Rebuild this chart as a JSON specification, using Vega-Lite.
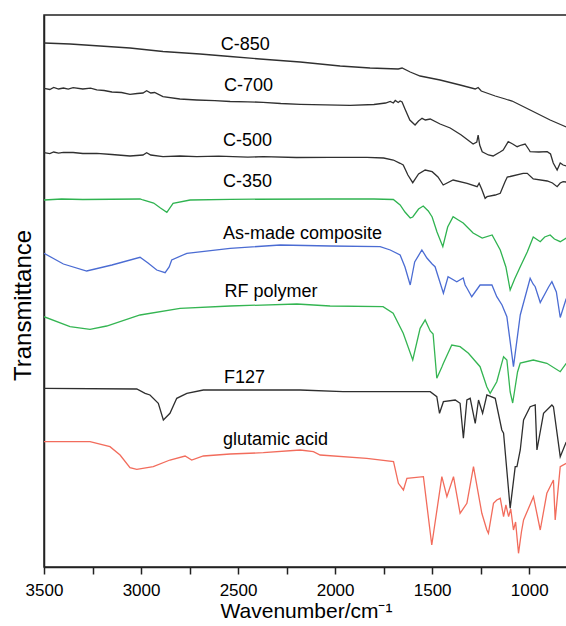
{
 "$schema": "https://vega.github.io/schema/vega-lite/v6.json",
 "width": 524, "height": 552,
 "autosize": {"type": "none"},
 "padding": {"left": 44, "top": 15, "right": 0, "bottom": 59},
 "background": "white",
 "config": {"view": {"stroke": "#222222", "strokeWidth": 1.5}, "font": "Liberation Sans"},
 "datasets": {
  "spectra": [
   {"s":"C-850","wn":3500,"T":524},{"s":"C-850","wn":3366,"T":523},{"s":"C-850","wn":3211,"T":521},{"s":"C-850","wn":3057,"T":519},{"s":"C-850","wn":2887,"T":515.5},{"s":"C-850","wn":2696,"T":513},{"s":"C-850","wn":2541,"T":510.5},{"s":"C-850","wn":2387,"T":508},{"s":"C-850","wn":2180,"T":505},{"s":"C-850","wn":1974,"T":501},{"s":"C-850","wn":1820,"T":499},{"s":"C-850","wn":1675,"T":498},{"s":"C-850","wn":1655,"T":499},{"s":"C-850","wn":1613,"T":495},{"s":"C-850","wn":1562,"T":491},{"s":"C-850","wn":1459,"T":487},{"s":"C-850","wn":1356,"T":482},{"s":"C-850","wn":1278,"T":478},{"s":"C-850","wn":1263,"T":479.5},{"s":"C-850","wn":1247,"T":476},{"s":"C-850","wn":1175,"T":471},{"s":"C-850","wn":1123,"T":468},{"s":"C-850","wn":1108,"T":467},{"s":"C-850","wn":1088,"T":466},{"s":"C-850","wn":995,"T":457},{"s":"C-850","wn":892,"T":447},{"s":"C-850","wn":809,"T":440},
   {"s":"C-700","wn":3500,"T":478.7},{"s":"C-700","wn":3470,"T":477.5},{"s":"C-700","wn":3450,"T":479.5},{"s":"C-700","wn":3425,"T":478},{"s":"C-700","wn":3400,"T":479},{"s":"C-700","wn":3375,"T":477.8},{"s":"C-700","wn":3350,"T":479.3},{"s":"C-700","wn":3300,"T":478},{"s":"C-700","wn":3260,"T":478.8},{"s":"C-700","wn":3228,"T":477.2},{"s":"C-700","wn":3190,"T":476.5},{"s":"C-700","wn":3150,"T":475},{"s":"C-700","wn":3100,"T":474.5},{"s":"C-700","wn":3057,"T":472.7},{"s":"C-700","wn":3020,"T":473.5},{"s":"C-700","wn":2990,"T":474},{"s":"C-700","wn":2971,"T":476.3},{"s":"C-700","wn":2950,"T":474},{"s":"C-700","wn":2930,"T":474.5},{"s":"C-700","wn":2887,"T":470.3},{"s":"C-700","wn":2800,"T":468},{"s":"C-700","wn":2713,"T":467},{"s":"C-700","wn":2620,"T":466.3},{"s":"C-700","wn":2541,"T":465.5},{"s":"C-700","wn":2450,"T":465.2},{"s":"C-700","wn":2371,"T":464.7},{"s":"C-700","wn":2280,"T":463.5},{"s":"C-700","wn":2180,"T":462.7},{"s":"C-700","wn":2050,"T":462.2},{"s":"C-700","wn":1923,"T":461.7},{"s":"C-700","wn":1800,"T":462.5},{"s":"C-700","wn":1740,"T":464},{"s":"C-700","wn":1716,"T":465.5},{"s":"C-700","wn":1700,"T":464},{"s":"C-700","wn":1690,"T":466.5},{"s":"C-700","wn":1675,"T":464.5},{"s":"C-700","wn":1665,"T":466},{"s":"C-700","wn":1655,"T":465},{"s":"C-700","wn":1640,"T":458},{"s":"C-700","wn":1615,"T":447},{"s":"C-700","wn":1588,"T":442},{"s":"C-700","wn":1570,"T":446},{"s":"C-700","wn":1552,"T":448.7},{"s":"C-700","wn":1535,"T":447},{"s":"C-700","wn":1510,"T":448},{"s":"C-700","wn":1459,"T":443},{"s":"C-700","wn":1407,"T":439},{"s":"C-700","wn":1350,"T":432},{"s":"C-700","wn":1289,"T":423},{"s":"C-700","wn":1270,"T":425},{"s":"C-700","wn":1263,"T":432},{"s":"C-700","wn":1255,"T":422},{"s":"C-700","wn":1242,"T":415.3},{"s":"C-700","wn":1210,"T":412},{"s":"C-700","wn":1186,"T":411},{"s":"C-700","wn":1150,"T":415},{"s":"C-700","wn":1134,"T":417},{"s":"C-700","wn":1108,"T":425.3},{"s":"C-700","wn":1085,"T":423},{"s":"C-700","wn":1062,"T":420.3},{"s":"C-700","wn":1040,"T":422},{"s":"C-700","wn":1021,"T":423},{"s":"C-700","wn":1000,"T":417},{"s":"C-700","wn":995,"T":415.3},{"s":"C-700","wn":950,"T":415},{"s":"C-700","wn":907,"T":415.3},{"s":"C-700","wn":890,"T":413},{"s":"C-700","wn":876,"T":404},{"s":"C-700","wn":856,"T":397},{"s":"C-700","wn":840,"T":404},{"s":"C-700","wn":825,"T":402},{"s":"C-700","wn":809,"T":401},
   {"s":"C-500","wn":3500,"T":414.3},{"s":"C-500","wn":3470,"T":413.3},{"s":"C-500","wn":3450,"T":415},{"s":"C-500","wn":3425,"T":413.8},{"s":"C-500","wn":3400,"T":414.6},{"s":"C-500","wn":3350,"T":414.5},{"s":"C-500","wn":3300,"T":413.5},{"s":"C-500","wn":3228,"T":413.7},{"s":"C-500","wn":3150,"T":412.5},{"s":"C-500","wn":3057,"T":411},{"s":"C-500","wn":2990,"T":412},{"s":"C-500","wn":2971,"T":414.3},{"s":"C-500","wn":2950,"T":412},{"s":"C-500","wn":2887,"T":410.3},{"s":"C-500","wn":2800,"T":411},{"s":"C-500","wn":2713,"T":410.3},{"s":"C-500","wn":2600,"T":410.8},{"s":"C-500","wn":2450,"T":409.8},{"s":"C-500","wn":2371,"T":410.3},{"s":"C-500","wn":2200,"T":409.5},{"s":"C-500","wn":2026,"T":409.7},{"s":"C-500","wn":1836,"T":409.7},{"s":"C-500","wn":1750,"T":409},{"s":"C-500","wn":1700,"T":407},{"s":"C-500","wn":1665,"T":403.7},{"s":"C-500","wn":1649,"T":402},{"s":"C-500","wn":1625,"T":392},{"s":"C-500","wn":1600,"T":384.3},{"s":"C-500","wn":1570,"T":393},{"s":"C-500","wn":1536,"T":397},{"s":"C-500","wn":1500,"T":395.3},{"s":"C-500","wn":1470,"T":390},{"s":"C-500","wn":1443,"T":382},{"s":"C-500","wn":1392,"T":387},{"s":"C-500","wn":1320,"T":383.7},{"s":"C-500","wn":1268,"T":380.3},{"s":"C-500","wn":1258,"T":383.7},{"s":"C-500","wn":1245,"T":378},{"s":"C-500","wn":1227,"T":368.7},{"s":"C-500","wn":1217,"T":370.3},{"s":"C-500","wn":1175,"T":372},{"s":"C-500","wn":1149,"T":373.7},{"s":"C-500","wn":1125,"T":385},{"s":"C-500","wn":1113,"T":390},{"s":"C-500","wn":1098,"T":390.5},{"s":"C-500","wn":1031,"T":393.7},{"s":"C-500","wn":1010,"T":393.7},{"s":"C-500","wn":979,"T":388},{"s":"C-500","wn":907,"T":386},{"s":"C-500","wn":880,"T":384},{"s":"C-500","wn":856,"T":380.3},{"s":"C-500","wn":840,"T":384},{"s":"C-500","wn":825,"T":385.3},{"s":"C-500","wn":809,"T":385},
   {"s":"C-350","wn":3500,"T":367},{"s":"C-350","wn":3409,"T":368},{"s":"C-350","wn":3300,"T":367.5},{"s":"C-350","wn":3005,"T":368},{"s":"C-350","wn":2990,"T":367},{"s":"C-350","wn":2935,"T":364},{"s":"C-350","wn":2900,"T":359},{"s":"C-350","wn":2867,"T":354.7},{"s":"C-350","wn":2835,"T":363.7},{"s":"C-350","wn":2747,"T":367},{"s":"C-350","wn":2541,"T":367.7},{"s":"C-350","wn":2026,"T":368},{"s":"C-350","wn":1800,"T":368},{"s":"C-350","wn":1700,"T":367.5},{"s":"C-350","wn":1665,"T":362},{"s":"C-350","wn":1640,"T":355},{"s":"C-350","wn":1613,"T":349},{"s":"C-350","wn":1600,"T":350},{"s":"C-350","wn":1570,"T":358},{"s":"C-350","wn":1546,"T":361},{"s":"C-350","wn":1520,"T":356},{"s":"C-350","wn":1500,"T":350},{"s":"C-350","wn":1475,"T":335},{"s":"C-350","wn":1445,"T":320.3},{"s":"C-350","wn":1420,"T":340},{"s":"C-350","wn":1392,"T":350.3},{"s":"C-350","wn":1365,"T":347},{"s":"C-350","wn":1340,"T":344},{"s":"C-350","wn":1289,"T":334},{"s":"C-350","wn":1242,"T":329},{"s":"C-350","wn":1191,"T":332},{"s":"C-350","wn":1149,"T":317},{"s":"C-350","wn":1120,"T":300},{"s":"C-350","wn":1098,"T":277},{"s":"C-350","wn":1075,"T":288},{"s":"C-350","wn":1046,"T":300.3},{"s":"C-350","wn":1010,"T":315},{"s":"C-350","wn":979,"T":330},{"s":"C-350","wn":943,"T":325.3},{"s":"C-350","wn":920,"T":330},{"s":"C-350","wn":892,"T":332},{"s":"C-350","wn":870,"T":328},{"s":"C-350","wn":840,"T":325.3},{"s":"C-350","wn":809,"T":329},
   {"s":"As-made composite","wn":3500,"T":313.7},{"s":"As-made composite","wn":3400,"T":303},{"s":"As-made composite","wn":3280,"T":296},{"s":"As-made composite","wn":3150,"T":302},{"s":"As-made composite","wn":3005,"T":309.7},{"s":"As-made composite","wn":2964,"T":304},{"s":"As-made composite","wn":2919,"T":297},{"s":"As-made composite","wn":2876,"T":294.3},{"s":"As-made composite","wn":2855,"T":300},{"s":"As-made composite","wn":2842,"T":307},{"s":"As-made composite","wn":2764,"T":313.7},{"s":"As-made composite","wn":2541,"T":318.7},{"s":"As-made composite","wn":2283,"T":322},{"s":"As-made composite","wn":2026,"T":321},{"s":"As-made composite","wn":1768,"T":320.3},{"s":"As-made composite","wn":1716,"T":317},{"s":"As-made composite","wn":1665,"T":312},{"s":"As-made composite","wn":1640,"T":300},{"s":"As-made composite","wn":1613,"T":282},{"s":"As-made composite","wn":1590,"T":305},{"s":"As-made composite","wn":1553,"T":317},{"s":"As-made composite","wn":1527,"T":309},{"s":"As-made composite","wn":1500,"T":303},{"s":"As-made composite","wn":1485,"T":300.3},{"s":"As-made composite","wn":1442,"T":273.7},{"s":"As-made composite","wn":1418,"T":290.3},{"s":"As-made composite","wn":1373,"T":285.3},{"s":"As-made composite","wn":1340,"T":289},{"s":"As-made composite","wn":1330,"T":282},{"s":"As-made composite","wn":1321,"T":279},{"s":"As-made composite","wn":1296,"T":270.3},{"s":"As-made composite","wn":1253,"T":282},{"s":"As-made composite","wn":1192,"T":282},{"s":"As-made composite","wn":1167,"T":270.3},{"s":"As-made composite","wn":1140,"T":262},{"s":"As-made composite","wn":1115,"T":250.3},{"s":"As-made composite","wn":1081,"T":200.3},{"s":"As-made composite","wn":1046,"T":252},{"s":"As-made composite","wn":995,"T":288.7},{"s":"As-made composite","wn":980,"T":283},{"s":"As-made composite","wn":969,"T":280.3},{"s":"As-made composite","wn":943,"T":264.5},{"s":"As-made composite","wn":900,"T":280},{"s":"As-made composite","wn":883,"T":285.3},{"s":"As-made composite","wn":860,"T":275},{"s":"As-made composite","wn":840,"T":249.5},{"s":"As-made composite","wn":809,"T":268.5},
   {"s":"RF polymer","wn":3500,"T":250.3},{"s":"RF polymer","wn":3366,"T":240.3},{"s":"RF polymer","wn":3263,"T":237.7},{"s":"RF polymer","wn":3177,"T":241},{"s":"RF polymer","wn":3005,"T":252},{"s":"RF polymer","wn":2799,"T":258.7},{"s":"RF polymer","wn":2541,"T":261},{"s":"RF polymer","wn":2197,"T":263},{"s":"RF polymer","wn":2026,"T":261},{"s":"RF polymer","wn":1753,"T":260.3},{"s":"RF polymer","wn":1701,"T":253.7},{"s":"RF polymer","wn":1649,"T":233.7},{"s":"RF polymer","wn":1600,"T":207},{"s":"RF polymer","wn":1562,"T":238.7},{"s":"RF polymer","wn":1536,"T":247},{"s":"RF polymer","wn":1510,"T":236},{"s":"RF polymer","wn":1495,"T":233},{"s":"RF polymer","wn":1476,"T":188.7},{"s":"RF polymer","wn":1450,"T":200},{"s":"RF polymer","wn":1442,"T":203.7},{"s":"RF polymer","wn":1399,"T":222},{"s":"RF polymer","wn":1356,"T":220.3},{"s":"RF polymer","wn":1313,"T":213.7},{"s":"RF polymer","wn":1253,"T":200.3},{"s":"RF polymer","wn":1218,"T":180},{"s":"RF polymer","wn":1201,"T":173.7},{"s":"RF polymer","wn":1167,"T":185.3},{"s":"RF polymer","wn":1132,"T":210.3},{"s":"RF polymer","wn":1115,"T":207},{"s":"RF polymer","wn":1098,"T":175},{"s":"RF polymer","wn":1085,"T":164},{"s":"RF polymer","wn":1060,"T":195},{"s":"RF polymer","wn":1046,"T":204},{"s":"RF polymer","wn":979,"T":207},{"s":"RF polymer","wn":909,"T":203.7},{"s":"RF polymer","wn":840,"T":195.3},{"s":"RF polymer","wn":809,"T":203.7},
   {"s":"F127","wn":3500,"T":178.7},{"s":"F127","wn":3022,"T":178},{"s":"F127","wn":2979,"T":173.7},{"s":"F127","wn":2954,"T":172},{"s":"F127","wn":2911,"T":163.7},{"s":"F127","wn":2885,"T":147},{"s":"F127","wn":2851,"T":153.7},{"s":"F127","wn":2816,"T":168.7},{"s":"F127","wn":2764,"T":173.7},{"s":"F127","wn":2679,"T":177},{"s":"F127","wn":2180,"T":177},{"s":"F127","wn":1959,"T":175.3},{"s":"F127","wn":1510,"T":175.3},{"s":"F127","wn":1476,"T":170.3},{"s":"F127","wn":1462,"T":153.7},{"s":"F127","wn":1442,"T":165.3},{"s":"F127","wn":1381,"T":167},{"s":"F127","wn":1356,"T":163.7},{"s":"F127","wn":1339,"T":128.7},{"s":"F127","wn":1321,"T":167},{"s":"F127","wn":1304,"T":168.7},{"s":"F127","wn":1278,"T":143.7},{"s":"F127","wn":1261,"T":167},{"s":"F127","wn":1240,"T":153.7},{"s":"F127","wn":1218,"T":172},{"s":"F127","wn":1175,"T":168.7},{"s":"F127","wn":1141,"T":137},{"s":"F127","wn":1132,"T":133.7},{"s":"F127","wn":1098,"T":58.7},{"s":"F127","wn":1072,"T":100.3},{"s":"F127","wn":1063,"T":100.3},{"s":"F127","wn":1046,"T":117},{"s":"F127","wn":1029,"T":147},{"s":"F127","wn":995,"T":160.3},{"s":"F127","wn":969,"T":162},{"s":"F127","wn":960,"T":117},{"s":"F127","wn":926,"T":153.7},{"s":"F127","wn":883,"T":162},{"s":"F127","wn":875,"T":160.3},{"s":"F127","wn":840,"T":110.3},{"s":"F127","wn":809,"T":125},
   {"s":"glutamic acid","wn":3500,"T":125.3},{"s":"glutamic acid","wn":3263,"T":125.3},{"s":"glutamic acid","wn":3160,"T":120.3},{"s":"glutamic acid","wn":3108,"T":112},{"s":"glutamic acid","wn":3057,"T":99.3},{"s":"glutamic acid","wn":3022,"T":97.7},{"s":"glutamic acid","wn":2937,"T":100.3},{"s":"glutamic acid","wn":2851,"T":107},{"s":"glutamic acid","wn":2773,"T":111},{"s":"glutamic acid","wn":2739,"T":107},{"s":"glutamic acid","wn":2679,"T":111},{"s":"glutamic acid","wn":2541,"T":113},{"s":"glutamic acid","wn":2370,"T":114.3},{"s":"glutamic acid","wn":2180,"T":117},{"s":"glutamic acid","wn":2112,"T":115.3},{"s":"glutamic acid","wn":2077,"T":112},{"s":"glutamic acid","wn":1837,"T":108.7},{"s":"glutamic acid","wn":1699,"T":105.3},{"s":"glutamic acid","wn":1674,"T":83.7},{"s":"glutamic acid","wn":1648,"T":77},{"s":"glutamic acid","wn":1630,"T":88.7},{"s":"glutamic acid","wn":1545,"T":90.3},{"s":"glutamic acid","wn":1502,"T":22},{"s":"glutamic acid","wn":1450,"T":90.3},{"s":"glutamic acid","wn":1424,"T":70.3},{"s":"glutamic acid","wn":1390,"T":90.3},{"s":"glutamic acid","wn":1356,"T":53.7},{"s":"glutamic acid","wn":1321,"T":63.7},{"s":"glutamic acid","wn":1287,"T":100.3},{"s":"glutamic acid","wn":1244,"T":53.7},{"s":"glutamic acid","wn":1218,"T":37},{"s":"glutamic acid","wn":1210,"T":33.7},{"s":"glutamic acid","wn":1184,"T":63.7},{"s":"glutamic acid","wn":1167,"T":67},{"s":"glutamic acid","wn":1149,"T":68.7},{"s":"glutamic acid","wn":1132,"T":50.3},{"s":"glutamic acid","wn":1120,"T":62},{"s":"glutamic acid","wn":1106,"T":50.3},{"s":"glutamic acid","wn":1095,"T":58},{"s":"glutamic acid","wn":1081,"T":37},{"s":"glutamic acid","wn":1070,"T":45},{"s":"glutamic acid","wn":1055,"T":13.7},{"s":"glutamic acid","wn":1040,"T":35},{"s":"glutamic acid","wn":1029,"T":47},{"s":"glutamic acid","wn":978,"T":70.3},{"s":"glutamic acid","wn":943,"T":37},{"s":"glutamic acid","wn":909,"T":73.7},{"s":"glutamic acid","wn":875,"T":87},{"s":"glutamic acid","wn":866,"T":47},{"s":"glutamic acid","wn":840,"T":100.3},{"s":"glutamic acid","wn":809,"T":103.7}
  ],
  "labels": [
   {"label":"C-850","wn":2589,"T":517},
   {"label":"C-700","wn":2572,"T":476},
   {"label":"C-500","wn":2578,"T":421},
   {"label":"C-350","wn":2578,"T":380},
   {"label":"As-made composite","wn":2578,"T":328},
   {"label":"RF polymer","wn":2570,"T":270},
   {"label":"F127","wn":2572,"T":184},
   {"label":"glutamic acid","wn":2578,"T":122}
  ]
 },
 "layer": [
  {
   "data": {"name": "spectra"},
   "mark": {"type": "line", "strokeWidth": 1.3, "clip": true},
   "encoding": {
    "x": {"field": "wn", "type": "quantitative",
          "scale": {"domain": [800, 3500], "reverse": true, "nice": false, "zero": false},
          "axis": {"orient": "bottom", "values": [3500, 3250, 3000, 2750, 2500, 2250, 2000, 1750, 1500, 1250, 1000], "labelExpr": "datum.value % 500 == 0 ? datum.label : ''", "format": "d", "ticks": true, "tickSize": 7, "tickWidth": 1.5, "tickColor": "#222222", "domainColor": "#222222", "domainWidth": 1.5, "labelFontSize": 17, "labelColor": "black", "labelPadding": 8, "labelFlush": false, "labelOverlap": false, "grid": false, "title": "Wavenumber/cm⁻¹", "titleFontSize": 21, "titleFontWeight": "normal", "titleColor": "black", "titlePadding": 2}},
    "y": {"field": "T", "type": "quantitative",
          "scale": {"domain": [0, 552], "nice": false, "zero": false},
          "axis": {"ticks": false, "labels": false, "grid": false, "domainColor": "#222222", "domainWidth": 1.5, "title": "Transmittance", "titleFontSize": 24, "titleFontWeight": "normal", "titleColor": "black", "titleBaseline": "middle", "titleX": -21, "titleY": 290}},
    "color": {"field": "s", "type": "nominal",
              "scale": {"domain": ["C-850", "C-700", "C-500", "C-350", "As-made composite", "RF polymer", "F127", "glutamic acid"],
                        "range": ["#303030", "#303030", "#303030", "#2fb350", "#4b6cd3", "#34b552", "#2e2e2e", "#f26c5c"]},
              "legend": null}
   }
  },
  {
   "data": {"name": "labels"},
   "mark": {"type": "text", "align": "left", "baseline": "alphabetic", "fontSize": 18, "color": "black"},
   "encoding": {
    "x": {"field": "wn", "type": "quantitative"},
    "y": {"field": "T", "type": "quantitative"},
    "text": {"field": "label"}
   }
  }
 ]
}
